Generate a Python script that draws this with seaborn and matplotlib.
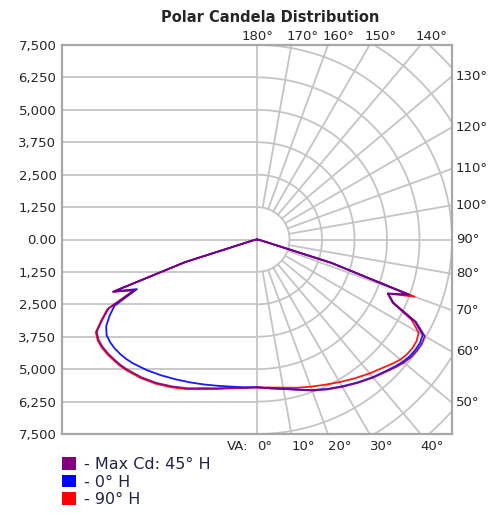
import numpy as np
import pandas as pd
import seaborn as sns
import matplotlib
matplotlib.use('Agg')
import matplotlib.pyplot as plt
from matplotlib.patches import Patch

# vertical angles (deg) and candela values
va_deg = [0, 5, 10, 15, 20, 25, 30, 35, 40, 45, 47.5, 50, 52.5, 55, 57.5, 60,
          62.5, 65, 67.5, 70, 72.5, 75, 80, 85, 90]

maxcd_right = [5700, 5760, 5850, 6000, 6200, 6380, 6560, 6750, 6950, 7150, 7270, 7380, 7460, 7500, 7510, 7450,
               6900, 5800, 5450, 6220, 3000, 300, 100, 30, 0]
maxcd_left = [5700, 5740, 5810, 5940, 6100, 6330, 6540, 6750, 6930, 7080, 7140, 7180, 7220, 7240, 7220, 7120,
              6710, 6300, 5100, 5900, 2900, 300, 100, 30, 0]
h0_right = [5700, 5760, 5850, 5990, 6180, 6360, 6540, 6730, 6930, 7120, 7230, 7330, 7400, 7430, 7430, 7360,
            6850, 5780, 5450, 6200, 3000, 300, 100, 30, 0]
h0_left = [5700, 5720, 5760, 5840, 5950, 6080, 6230, 6400, 6580, 6750, 6820, 6870, 6900, 6900, 6860, 6700,
           6400, 6050, 5000, 5850, 2900, 300, 100, 30, 0]
h90_right = [5700, 5730, 5800, 5920, 6040, 6180, 6350, 6540, 6740, 6950, 7080, 7200, 7270, 7300, 7280, 7180,
             6700, 5750, 5450, 6450, 3000, 300, 100, 30, 0]
h90_left = [5700, 5750, 5830, 5970, 6140, 6370, 6580, 6790, 6970, 7120, 7180, 7220, 7260, 7280, 7260, 7160,
            6750, 6350, 5100, 5880, 2900, 300, 100, 30, 0]

series_names = ['- Max Cd: 45° H', '- 0° H', '- 90° H']
series_colors = ['#800080', '#0000ff', '#ff0000']

y_ticks = [-7500, -6250, -5000, -3750, -2500, -1250, 0, 1250, 2500, 3750, 5000, 6250, 7500]
y_labels = ['7,500', '6,250', '5,000', '3,750', '2,500', '1,250', '0.00',
            '1,250', '2,500', '3,750', '5,000', '6,250', '7,500']
angle_labels = list(range(0, 190, 10))
rmax = 7500

# build one closed path per series: left half (90 -> 0) then right half (0 -> 90)
rows = []
pairs = [(maxcd_left, maxcd_right), (h0_left, h0_right), (h90_left, h90_right)]
for name, (left, right) in zip(series_names, pairs):
    th = np.radians(va_deg)
    for t, r in zip(th[::-1], left[::-1]):
        rows.append((name, -r * np.sin(t), -r * np.cos(t)))
    for t, r in zip(th, right):
        rows.append((name, r * np.sin(t), -r * np.cos(t)))
df = pd.DataFrame(rows, columns=['series', 'x', 'y'])

sns.set_style('white')
plt.rcParams['font.family'] = ['DejaVu Sans']

fig = plt.figure(figsize=(4.98, 5.15), dpi=100)
ax = fig.add_axes([62 / 498, 1 - 434 / 515, 390 / 498, 389 / 515])
ax.set_xlim(-rmax, rmax)
ax.set_ylim(-rmax, rmax)

grid_kw = dict(color='#c4c4c4', lw=1.3, zorder=1)
# left half: horizontal grid
for yv in y_ticks:
    ax.plot([-rmax, 0], [yv, yv], **grid_kw)
ax.plot([0, 0], [-rmax, rmax], **grid_kw)
# right half: polar grid
arc = np.radians(np.linspace(0, 180, 200))
for rr in np.arange(1250, 12500, 1250):
    ax.plot(rr * np.sin(arc), -rr * np.cos(arc), **grid_kw)
for a in angle_labels[1:-1]:
    t = np.radians(a)
    ax.plot([1250 * np.sin(t), 12000 * np.sin(t)], [-1250 * np.cos(t), -12000 * np.cos(t)], **grid_kw)

palette = dict(zip(series_names, series_colors))
sns.lineplot(data=df, x='x', y='y', hue='series', hue_order=series_names[::-1],
             palette=palette, sort=False, estimator=None, lw=1.3, alpha=0.9,
             legend=False, ax=ax, zorder=3)

ax.set_xlabel('')
ax.set_ylabel('')
ax.set_xticks([])
ax.set_yticks(y_ticks)
ax.set_yticklabels(y_labels, fontsize=9.5)
ax.tick_params(axis='y', length=0, pad=4)
for s in ax.spines.values():
    s.set_color('#a8a8a8')
    s.set_linewidth(1.6)

# angle labels around the frame
fs = 9.5
for a in angle_labels:
    t = np.radians(a)
    if a <= 40:
        x = rmax * np.tan(t)
        ax.text(x, -rmax - 250, f'{a}°', ha='left', va='top', fontsize=fs)
    elif a >= 140:
        x = rmax * np.tan(np.pi - t)
        if a == 180:
            ax.text(x, rmax + 60, f'{a}°', ha='center', va='bottom', fontsize=fs)
        else:
            ax.text(x - 200, rmax + 60, f'{a}°', ha='left', va='bottom', fontsize=fs)
    else:
        y = -rmax / np.tan(t)
        ax.text(rmax + 150, y, f'{a}°', ha='left', va='center', fontsize=fs)
ax.text(-350, -rmax - 250, 'VA:', ha='right', va='top', fontsize=fs)

fig.text(0.542, 0.966, 'Polar Candela Distribution', ha='center', va='center',
         fontsize=10.5, fontweight='bold')

handles = [Patch(facecolor=c, edgecolor='none') for c in series_colors]
leg = fig.legend(handles, series_names, loc='upper left',
                 bbox_to_anchor=(51 / 498, 1 - 446 / 515), frameon=False,
                 fontsize=11.5, handlelength=0.85, handleheight=0.85,
                 handletextpad=0.5, labelspacing=0.15, borderpad=0.2)
for txt in leg.get_texts():
    txt.set_color('#22224a')

fig.savefig('out.png', dpi=100)
